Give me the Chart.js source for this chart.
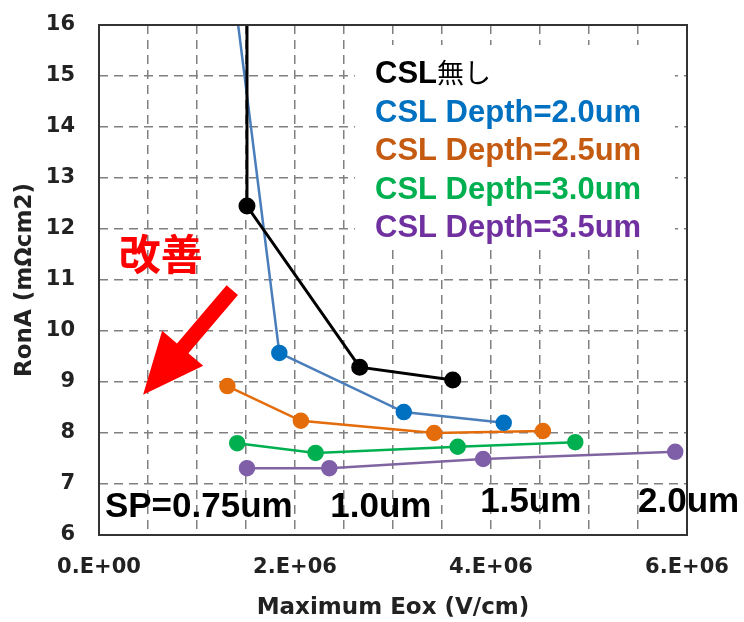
<!DOCTYPE html>
<html>
<head>
<meta charset="utf-8">
<script src="https://cdn.jsdelivr.net/npm/chart.js@4"></script>
<style>
  html, body { margin: 0; padding: 0; background: #fff; }
  canvas { display: block; }
</style>
</head>
<body>
<canvas id="chart" width="744" height="622"></canvas>
<script>
// ── DATA ─────────────────────────────────────────
// Maximum Eox (V/cm) vs RonA (mΩcm2), one series per CSL depth
const SERIES_LABELS = [
  "CSL無し",
  "CSL Depth=2.0um",
  "CSL Depth=2.5um",
  "CSL Depth=3.0um",
  "CSL Depth=3.5um",
];

// first point of the first two series sits on the top edge (line runs off the chart)
const NONE_X = [1.51e6, 1.51e6, 2.66e6, 3.61e6];
const NONE_Y = [16, 12.45, 9.29, 9.04];

const D20_X = [1.42e6, 1.84e6, 3.11e6, 4.13e6];
const D20_Y = [16, 9.57, 8.41, 8.20];

const D25_X = [1.31e6, 2.06e6, 3.42e6, 4.53e6];
const D25_Y = [8.92, 8.24, 8.00, 8.04];

const D30_X = [1.41e6, 2.21e6, 3.66e6, 4.86e6];
const D30_Y = [7.80, 7.61, 7.73, 7.82];

const D35_X = [1.51e6, 2.35e6, 3.92e6, 5.88e6];
const D35_Y = [7.31, 7.31, 7.49, 7.63];

const X_LABEL_AT   = [0, 2e6, 4e6, 6e6];
const X_LABEL_TEXT = ["0.E+00", "2.E+06", "4.E+06", "6.E+06"];

const SP_LABELS = ["SP=0.75um", "1.0um", "1.5um", "2.0um"];

// ── STYLE ────────────────────────────────────────

const LINE_COLORS   = ["#000000", "#4a7ebb", "#e46c0a", "#00b050", "#8064a2"];
const MARKER_COLORS = ["#000000", "#0070c0", "#e46c0a", "#00b050", "#7f5fa8"];
const TEXT_COLORS   = ["#000000", "#0070c0", "#c55a11", "#00b050", "#7030a0"];

const TICK_FONT  = { family: "'DejaVu Sans', sans-serif", size: 21, weight: "bold" };
const TITLE_FONT = { family: "'DejaVu Sans', sans-serif", size: 23, weight: "bold" };
const GRID_DASH  = [9, 6];

function pts(xs, ys) {
  return xs.map((x, i) => ({ x: x, y: ys[i] }));
}

function series(i, xs, ys, hideFirst) {
  return {
    label: SERIES_LABELS[i],
    data: pts(xs, ys),
    borderColor: LINE_COLORS[i],
    borderWidth: i === 0 ? 3 : 2.5,
    pointBackgroundColor: MARKER_COLORS[i],
    pointBorderColor: MARKER_COLORS[i],
    pointRadius: xs.map((_, k) => (hideFirst && k === 0 ? 0 : 7)),
    pointHoverRadius: 7,
    showLine: true,
    tension: 0,
  };
}

// ── PLUGINS ──────────────────────────────────────

// legend: plain coloured text on a white box inside the plot
const legendBox = {
  id: "legendBox",
  beforeDatasetsDraw(chart, args, opts) {
    const ctx = chart.ctx;
    ctx.save();
    ctx.fillStyle = "#fff";
    ctx.fillRect(opts.box[0], opts.box[1], opts.box[2] - opts.box[0], opts.box[3] - opts.box[1]);
    ctx.textBaseline = "alphabetic";
    ctx.textAlign = "left";
    chart.data.datasets.forEach((ds, i) => {
      const y = opts.y + i * opts.step;
      ctx.fillStyle = TEXT_COLORS[i];
      ctx.font = "bold 31px 'Liberation Sans', Arial, sans-serif";
      if (i === 0) {
        ctx.fillText("CSL", opts.x, y);
        const w = ctx.measureText("CSL").width;
        ctx.font = "27px 'Noto Sans CJK JP', sans-serif";
        ctx.fillText(ds.label.slice(3), opts.x + w, y);
      } else {
        ctx.fillText(ds.label, opts.x, y);
      }
    });
    ctx.restore();
  },
};

// SP labels, the red arrow and 改善, all placed in data coordinates
const notes = {
  id: "notes",
  afterDatasetsDraw(chart, args, opts) {
    const ctx = chart.ctx;
    const xs = chart.scales.x, ys = chart.scales.y;
    ctx.save();

    ctx.fillStyle = "#000";
    ctx.textAlign = "left";
    ctx.textBaseline = "alphabetic";
    ctx.font = "bold 35px 'Liberation Sans', Arial, sans-serif";
    opts.sp.forEach((p, i) => {
      ctx.fillText(SP_LABELS[i], xs.getPixelForValue(p[0]), ys.getPixelForValue(p[1]));
    });

    // arrow
    const sx = xs.getPixelForValue(opts.arrow[0]), sy = ys.getPixelForValue(opts.arrow[1]);
    const tx = xs.getPixelForValue(opts.arrow[2]), ty = ys.getPixelForValue(opts.arrow[3]);
    const len = Math.hypot(tx - sx, ty - sy);
    const ux = (tx - sx) / len, uy = (ty - sy) / len;
    const nx = -uy, ny = ux;
    const hw = 7.5, headW = 27, headL = 61;
    const hx = tx - ux * headL, hy = ty - uy * headL;
    ctx.fillStyle = "#ff0000";
    ctx.beginPath();
    ctx.moveTo(sx + nx * hw, sy + ny * hw);
    ctx.lineTo(hx + nx * hw, hy + ny * hw);
    ctx.lineTo(hx + nx * headW, hy + ny * headW);
    ctx.lineTo(tx, ty);
    ctx.lineTo(hx - nx * headW, hy - ny * headW);
    ctx.lineTo(hx - nx * hw, hy - ny * hw);
    ctx.lineTo(sx - nx * hw, sy - ny * hw);
    ctx.closePath();
    ctx.fill();

    ctx.font = "bold 42px 'Noto Sans CJK JP', sans-serif";
    ctx.textAlign = "center";
    ctx.textBaseline = "middle";
    ctx.fillText("改善", xs.getPixelForValue(opts.kaizen[0]), ys.getPixelForValue(opts.kaizen[1]));

    // plot frame on top
    const a = chart.chartArea;
    ctx.strokeStyle = "#333";
    ctx.lineWidth = 2;
    ctx.strokeRect(a.left, a.top, a.right - a.left, a.bottom - a.top);
    ctx.restore();
  },
};

// ── CHART ────────────────────────────────────────

function buildChart() {
  const ctx = document.getElementById("chart").getContext("2d");
  new Chart(ctx, {
    type: "scatter",
    data: {
      datasets: [
        series(0, NONE_X, NONE_Y, true),
        series(1, D20_X, D20_Y, true),
        series(2, D25_X, D25_Y, false),
        series(3, D30_X, D30_Y, false),
        series(4, D35_X, D35_Y, false),
      ],
    },
    options: {
      responsive: false,
      animation: false,
      layout: { padding: { left: 0, right: 57, top: 25, bottom: 0 } },
      plugins: {
        legend: { display: false },
        tooltip: { enabled: false },
        legendBox: { x: 375, y: 83, step: 38.5, box: [355, 45, 675, 250] },
        notes: {
          sp: [[0.06e6, 6.35], [2.36e6, 6.35], [3.89e6, 6.45], [5.5e6, 6.45]],
          arrow: [1.36e6, 10.8, 0.45e6, 8.75],
          kaizen: [0.63e6, 11.5],
        },
      },
      scales: {
        x: {
          type: "linear",
          min: 0,
          max: 6e6,
          afterFit: s => { s.height = 87; s.paddingLeft = 0; s.paddingRight = 0; },
          border: { display: false, dash: GRID_DASH },
          grid: { color: "#808080", lineWidth: 1.5, drawTicks: false },
          ticks: {
            stepSize: 0.5e6,
            autoSkip: false,
            maxRotation: 0,
            padding: 20,
            color: "#222",
            font: TICK_FONT,
            callback: v => {
              const k = X_LABEL_AT.indexOf(v);
              return k >= 0 ? X_LABEL_TEXT[k] : "";
            },
          },
          title: {
            display: true,
            text: "Maximum Eox (V/cm)",
            color: "#222",
            font: TITLE_FONT,
            padding: { top: 0, bottom: 0 },
          },
        },
        y: {
          type: "linear",
          min: 6,
          max: 16,
          afterFit: s => { s.width = 99; s.paddingTop = 0; s.paddingBottom = 0; },
          border: { display: false, dash: GRID_DASH },
          grid: { color: "#808080", lineWidth: 1.5, drawTicks: false },
          ticks: {
            stepSize: 1,
            padding: 24,
            color: "#222",
            font: TICK_FONT,
          },
          title: {
            display: true,
            text: "RonA (mΩcm2)",
            color: "#222",
            font: TITLE_FONT,
            padding: { top: 11, bottom: 0 },
          },
        },
      },
    },
    plugins: [legendBox, notes],
  });
}

buildChart();
</script>
</body>
</html>
